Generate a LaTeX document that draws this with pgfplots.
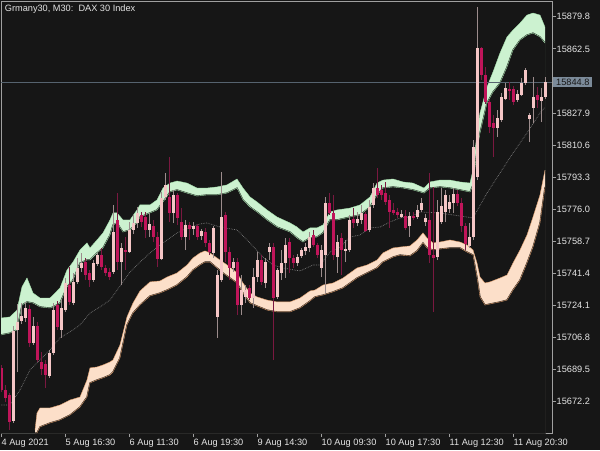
\documentclass[border=0pt]{standalone}
\usepackage{pgfplots}
\pgfplotsset{compat=1.18}
\usepackage{pgfplotstable}
\usepackage{fontspec}
\setmainfont{Liberation Sans}

\definecolor{bg}{HTML}{161616}
\definecolor{framec}{HTML}{A0A0A0}
\definecolor{labelc}{HTML}{E4E4E4}
\definecolor{mint}{HTML}{CCF2D0}
\definecolor{mintedge}{HTML}{A8E4B0}
\definecolor{peach}{HTML}{FCDFC9}
\definecolor{peachedge}{HTML}{E0A070}
\definecolor{bullc}{HTML}{F5C6C6}
\definecolor{bearc}{HTML}{C0155A}
\definecolor{bullwick}{HTML}{9C8C8C}
\definecolor{bearwick}{HTML}{7A1840}
\definecolor{midc}{HTML}{7A7A7A}
\definecolor{bidc}{HTML}{56636F}
\definecolor{bidbox}{HTML}{7C8B9A}

% bar index, open, high, low, close (M30 bars)
\pgfplotstableread{
i O H L C
0 15690.4 15692.0 15677.4 15678.5
1 15678.5 15681.2 15672.0 15674.2
2 15675.8 15676.9 15656.9 15661.3
3 15661.8 15713.0 15660.7 15710.3
4 15710.9 15724.9 15688.2 15715.2
5 15715.7 15725.4 15714.1 15718.4
6 15717.3 15726.0 15715.2 15722.7
7 15722.2 15724.3 15701.7 15703.9
8 15703.9 15717.9 15702.8 15713.0
9 15713.0 15715.2 15693.6 15694.7
10 15693.6 15699.0 15686.6 15689.8
11 15692.5 15694.7 15679.6 15686.6
12 15686.1 15700.1 15685.0 15698.5
13 15698.5 15725.4 15697.4 15721.6
14 15724.3 15726.5 15710.9 15712.5
15 15710.9 15727.0 15706.6 15722.7
16 15721.6 15738.9 15720.6 15736.2
17 15735.1 15744.8 15724.3 15726.0
18 15725.4 15741.6 15724.3 15736.8
19 15736.8 15749.7 15735.7 15744.3
20 15744.3 15752.4 15742.1 15747.0
21 15747.5 15749.7 15737.8 15740.5
22 15741.6 15743.2 15734.1 15737.8
23 15737.8 15748.6 15736.8 15747.0
24 15746.5 15752.4 15745.4 15751.3
25 15751.3 15755.1 15743.2 15744.8
26 15744.3 15745.9 15740.0 15741.6
27 15742.1 15744.3 15737.8 15739.4
28 15742.1 15778.3 15741.1 15763.7
29 15770.2 15784.7 15743.2 15747.5
30 15747.5 15757.8 15735.1 15755.1
31 15754.0 15761.0 15743.2 15752.9
32 15752.9 15769.1 15752.4 15764.8
33 15764.8 15772.9 15762.6 15768.6
34 15768.6 15777.2 15765.9 15774.0
35 15772.9 15774.5 15766.4 15769.1
36 15771.8 15774.5 15760.5 15764.8
37 15764.8 15774.0 15761.0 15768.0
38 15766.9 15770.2 15758.3 15761.0
39 15761.0 15763.7 15744.8 15749.1
40 15749.1 15785.3 15748.6 15782.0
41 15782.6 15795.5 15781.0 15789.1
42 15782.6 15804.1 15769.1 15774.0
43 15774.0 15786.4 15768.6 15783.7
44 15783.7 15784.7 15767.5 15771.3
45 15769.1 15776.6 15759.4 15761.0
46 15761.0 15770.2 15754.0 15767.5
47 15767.5 15769.1 15759.4 15765.3
48 15765.3 15769.1 15762.1 15766.9
49 15766.9 15768.0 15759.4 15761.0
50 15761.6 15765.3 15759.4 15764.2
51 15763.7 15765.9 15755.6 15757.8
52 15757.8 15759.4 15751.3 15752.9
53 15752.4 15766.9 15749.7 15765.9
54 15717.9 15743.2 15706.6 15740.5
55 15737.8 15796.1 15736.8 15771.8
56 15772.9 15774.5 15747.5 15752.9
57 15752.9 15755.6 15737.8 15744.3
58 15744.3 15749.7 15742.1 15747.5
59 15747.5 15749.7 15719.0 15724.3
60 15724.3 15740.5 15719.0 15732.4
61 15728.7 15735.1 15725.4 15732.4
62 15733.5 15735.1 15727.0 15728.1
63 15728.1 15744.3 15722.7 15739.4
64 15739.4 15752.9 15736.8 15748.6
65 15748.6 15751.3 15735.1 15736.8
66 15736.2 15749.7 15733.5 15747.5
67 15752.9 15757.8 15748.6 15755.6
68 15755.6 15757.8 15694.7 15728.1
69 15728.7 15744.3 15727.6 15743.2
70 15741.6 15754.0 15737.8 15747.0
71 15747.0 15760.5 15738.9 15756.7
72 15758.3 15760.5 15741.6 15749.7
73 15749.7 15751.3 15744.3 15747.0
74 15747.0 15751.8 15745.4 15750.2
75 15750.8 15755.1 15749.7 15754.0
76 15753.5 15757.8 15751.3 15755.6
77 15755.1 15763.7 15752.9 15761.0
78 15762.1 15764.8 15755.6 15756.7
79 15756.7 15757.8 15749.7 15751.3
80 15744.3 15756.7 15739.4 15754.0
81 15751.3 15782.6 15730.8 15779.3
82 15779.3 15784.7 15772.9 15774.0
83 15774.0 15783.7 15748.6 15751.3
84 15750.2 15762.1 15741.6 15758.3
85 15760.5 15763.2 15740.5 15754.0
86 15753.5 15759.4 15747.5 15754.5
87 15754.0 15772.9 15752.9 15770.2
88 15770.7 15776.6 15765.9 15768.6
89 15768.6 15774.5 15766.9 15770.7
90 15770.2 15778.3 15768.0 15774.0
91 15773.4 15774.5 15763.7 15764.2
92 15764.8 15781.0 15763.7 15777.2
93 15778.3 15790.1 15776.6 15787.4
94 15787.4 15798.2 15782.0 15783.7
95 15786.4 15789.1 15781.0 15783.7
96 15784.7 15790.7 15778.3 15779.9
97 15781.0 15783.7 15765.9 15774.5
98 15775.6 15779.3 15772.9 15774.0
99 15774.5 15776.6 15771.3 15772.9
100 15771.8 15775.6 15771.3 15773.4
101 15772.3 15775.6 15764.8 15765.9
102 15766.9 15774.5 15761.0 15772.3
103 15772.3 15774.5 15770.2 15771.3
104 15771.8 15778.3 15770.7 15775.6
105 15775.6 15782.0 15774.5 15779.3
106 15769.1 15773.4 15766.9 15771.3
107 15770.2 15795.5 15747.0 15751.3
108 15751.3 15788.0 15720.6 15749.7
109 15750.2 15781.0 15748.6 15774.5
110 15769.1 15787.4 15768.0 15777.7
111 15774.5 15786.4 15769.1 15783.7
112 15776.1 15783.7 15774.0 15779.9
113 15779.3 15787.4 15774.0 15784.2
114 15784.2 15786.4 15777.7 15779.3
115 15779.3 15782.0 15763.7 15766.9
116 15766.9 15768.6 15754.0 15757.2
117 15756.2 15768.6 15755.1 15761.0
118 15761.0 15813.3 15759.4 15809.5
119 15793.4 15885.0 15791.7 15862.9
120 15862.9 15863.5 15845.7 15848.4
121 15848.4 15852.7 15832.7 15833.8
122 15833.8 15834.9 15817.1 15820.3
123 15822.5 15826.8 15804.1 15819.8
124 15819.8 15829.5 15814.9 15825.2
125 15824.1 15838.7 15823.0 15836.5
126 15835.4 15844.0 15834.9 15841.4
127 15840.8 15844.6 15834.9 15839.7
128 15840.8 15842.4 15832.2 15833.8
129 15834.9 15840.3 15833.8 15838.1
130 15837.6 15846.7 15837.0 15844.0
131 15844.0 15852.1 15843.0 15851.1
132 15824.6 15827.9 15812.2 15826.8
133 15830.6 15847.3 15822.5 15836.5
134 15837.6 15841.9 15830.6 15834.9
135 15834.3 15841.4 15823.0 15836.5
136 15836.5 15847.3 15835.4 15844.6
}\candles

% upper (green) band
\pgfplotstableread{
i top bot
0 15717.3 15708.2
2.25 15717.9 15709.2
4 15721.6 15710.9
5.25 15734.1 15724.3
6.5 15738.9 15726.0
8 15730.8 15725.4
9.75 15728.1 15723.3
12.25 15728.1 15722.7
13 15729.7 15723.3
14.75 15733.5 15725.4
16.5 15743.2 15734.1
18 15747.5 15737.8
19.75 15754.0 15747.0
21.5 15757.8 15748.6
22.25 15755.1 15748.6
24 15759.4 15752.4
25.5 15763.2 15755.1
27.25 15770.2 15762.1
28 15774.0 15767.5
29 15774.0 15768.6
30.5 15770.2 15763.7
32.25 15770.2 15764.8
34 15775.6 15768.6
34.75 15778.3 15771.8
37.25 15778.3 15774.0
39 15781.0 15775.6
40.5 15787.4 15779.9
42.25 15790.1 15785.3
44 15791.2 15786.4
46.5 15790.1 15784.7
49 15787.4 15783.1
51.5 15787.4 15783.7
54 15788.0 15783.7
56.5 15789.1 15784.7
59 15792.3 15787.4
60.5 15787.4 15781.0
62.25 15782.6 15777.2
64 15779.9 15774.5
66.5 15775.6 15770.2
69 15771.8 15766.4
72.25 15768.6 15763.7
74 15766.4 15760.5
75.5 15763.7 15758.3
77.25 15765.9 15760.5
79 15765.9 15761.0
80.5 15767.5 15763.2
82.25 15774.5 15770.2
84 15775.6 15770.2
87.25 15776.6 15771.8
89.75 15778.3 15772.9
92.25 15782.6 15777.2
94 15790.1 15783.7
95.5 15791.7 15787.4
98 15792.3 15788.0
100.5 15790.7 15787.4
103 15790.1 15786.4
105.75 15787.4 15784.7
107.25 15790.7 15787.4
109.75 15791.7 15788.0
112.25 15791.7 15787.4
114.75 15790.7 15786.4
117.25 15790.1 15785.3
118 15797.1 15789.1
119 15817.1 15807.9
119.75 15827.9 15817.1
121.5 15841.9 15833.3
123 15850.0 15839.2
124.75 15860.2 15844.0
126.5 15868.9 15852.7
128 15872.6 15861.8
129.75 15876.4 15867.2
131.5 15880.7 15869.9
133 15881.8 15871.0
134.75 15880.7 15868.9
136 15874.2 15865.6
}\upband

% lower (peach) band
\pgfplotstableread{
i top bot
8.5 15656.9 15655.3
9 15666.1 15655.3
9.75 15668.8 15658.6
12.25 15668.8 15660.7
14.75 15670.4 15662.3
17.25 15673.1 15665.0
19.75 15674.7 15669.3
21.5 15683.9 15674.7
22.25 15690.4 15682.3
24 15690.9 15683.9
25.5 15692.0 15685.0
27.25 15693.6 15686.6
28 15694.7 15688.2
29.75 15702.8 15695.8
31.5 15717.9 15713.6
33 15725.4 15720.0
34.75 15731.9 15724.3
37.25 15736.8 15729.2
39.75 15737.3 15730.8
41.5 15739.4 15732.4
44 15741.6 15735.1
46.5 15745.9 15739.4
48 15749.7 15743.2
49.75 15752.4 15745.9
51 15753.5 15747.5
52.25 15752.4 15747.5
54 15749.7 15744.3
55.5 15747.5 15741.6
57.25 15744.8 15738.9
59 15741.6 15736.2
60.5 15736.2 15730.8
62.25 15730.8 15725.4
64 15728.7 15723.8
66.5 15727.0 15721.6
69 15726.0 15720.6
72.25 15726.0 15720.6
74.75 15728.1 15722.7
77.25 15731.9 15726.5
78.5 15732.4 15728.7
80.5 15735.1 15729.7
83 15736.2 15731.4
85.5 15738.9 15733.5
87.25 15741.6 15736.2
89 15744.3 15738.9
91.5 15745.9 15741.6
94 15748.6 15744.3
95.5 15752.4 15747.5
98 15755.1 15750.2
99.75 15755.6 15751.3
102.25 15756.2 15750.8
104 15759.4 15753.5
105.5 15763.2 15757.8
106.5 15760.5 15755.1
108 15757.8 15754.0
109.75 15758.3 15754.5
112.25 15759.4 15755.1
114.75 15758.3 15755.1
116.5 15756.7 15752.9
118 15754.0 15751.3
119 15747.0 15739.4
119.75 15739.4 15728.7
121 15736.2 15724.3
122.25 15736.8 15724.9
124.75 15738.9 15726.0
126.5 15740.5 15727.0
128 15747.0 15732.4
129.75 15754.0 15737.8
131.5 15762.1 15747.0
133 15771.8 15755.6
134.75 15783.7 15768.6
136 15797.1 15788.0
}\lowband

% middle line
\pgfplotstableread{
i y
0 15670.4
2.25 15670.4
4.75 15678.5
7.25 15689.3
9 15693.1
12.25 15700.1
14.75 15706.6
18 15710.9
19.75 15713.6
22.25 15720.0
24.75 15723.3
27.25 15727.0
32.25 15742.1
34.75 15747.5
37.25 15752.4
39.75 15756.7
42.25 15760.5
44 15763.2
47.25 15766.4
49.75 15768.0
51.5 15768.6
54.75 15766.4
59 15764.8
62.25 15757.8
65.5 15750.2
68 15745.9
70.5 15744.3
74.75 15742.7
78 15745.9
79.75 15745.9
82.25 15752.9
84.75 15755.6
87.25 15761.0
89.75 15762.1
92.25 15765.9
94.75 15766.4
97.25 15769.1
99.75 15771.3
102.25 15771.8
104.75 15774.5
109.75 15774.0
114.75 15772.3
118 15771.3
121.5 15784.7
124.75 15795.5
128 15806.3
131.5 15817.1
134.75 15827.9
136 15831.1
}\midline

\begin{document}
\begin{tikzpicture}
\fill[bg] (-1bp,-17bp) rectangle (599bp,433bp);
\begin{axis}[
    at={(0,0)}, anchor=south west, scale only axis,
    width=551bp, height=432bp,
    xmin=0, xmax=137.75, ymin=15655.3, ymax=15888.3,
    scaled ticks=false,
    axis line style={draw=framec, line width=0.8bp},
    tick align=outside, major tick length=4bp,
    tick style={draw=framec, line width=0.8bp},
    xtick pos=lower, ytick pos=upper, yticklabel pos=upper,
    xtick={0,16,32,48,64,80,96,112,128},
    xticklabels={4 Aug 2021,5 Aug 16:30,6 Aug 11:30,6 Aug 19:30,9 Aug 14:30,10 Aug 09:30,10 Aug 17:30,11 Aug 12:30,11 Aug 20:30},
    ytick={15672.2,15689.5,15706.8,15724.1,15741.4,15758.7,15776.0,15793.3,15810.6,15827.9,15862.5,15879.8},
    yticklabels={15672.2,15689.5,15706.8,15724.1,15741.4,15758.7,15776.0,15793.3,15810.6,15827.9,15862.5,15879.8},
    ticklabel style={font=\fontsize{9.2bp}{11bp}\selectfont, text=labelc},
    xticklabel style={anchor=base west, inner xsep=0.5bp, yshift=-8bp},
    yticklabel style={anchor=west, inner xsep=0.5bp},
]
  % bands: fill down from the top edge, then blank out below the bottom edge
  \addplot[fill=mint, draw=none, forget plot] table[x=i, y=top] {\upband} \closedcycle;
  \addplot[fill=bg, draw=bg, line width=1.2bp, forget plot] table[x=i, y=bot] {\upband} \closedcycle;
  \addplot[fill=peach, draw=none, forget plot] table[x=i, y=top] {\lowband} \closedcycle;
  \addplot[fill=bg, draw=bg, line width=1.2bp, forget plot] table[x=i, y=bot] {\lowband} \closedcycle;
  \addplot[mintedge, line width=0.4bp, forget plot] table[x=i, y=top] {\upband};
  \addplot[mintedge, line width=0.4bp, forget plot] table[x=i, y=bot] {\upband};
  \addplot[peachedge, line width=0.4bp, forget plot] table[x=i, y=top] {\lowband};
  \addplot[peachedge, line width=0.4bp, forget plot] table[x=i, y=bot] {\lowband};

  % middle line
  \addplot[midc, densely dotted, line width=0.7bp, forget plot] table[x=i, y=y] {\midline};

  % bid line
  \addplot[bidc, line width=0.8bp, forget plot] coordinates {(0,15844.6) (137.75,15844.6)};
  \coordinate (bid) at (axis cs:137.75,15844.6);

  % wicks: low to high
  \addplot[bullwick, line width=1bp, forget plot,
    quiver={u=0, v=\thisrow{H}-\thisrow{L}, update limits=false},
    restrict expr to domain={\thisrow{C}-\thisrow{O}}{0:1000}]
    table[x=i, y=L] {\candles};
  \addplot[bearwick, line width=1bp, forget plot,
    quiver={u=0, v=\thisrow{H}-\thisrow{L}, update limits=false},
    restrict expr to domain={\thisrow{O}-\thisrow{C}}{0.01:1000}]
    table[x=i, y=L] {\candles};

  % bodies: open to close
  \addplot[bullc, line width=3bp, forget plot,
    quiver={u=0, v=\thisrow{C}-\thisrow{O}, update limits=false},
    restrict expr to domain={\thisrow{C}-\thisrow{O}}{0:1000}]
    table[x=i, y=O] {\candles};
  \addplot[bearc, line width=3bp, forget plot,
    quiver={u=0, v=\thisrow{C}-\thisrow{O}, update limits=false},
    restrict expr to domain={\thisrow{O}-\thisrow{C}}{0.01:1000}]
    table[x=i, y=O] {\candles};
\end{axis}
\node[fill=bidbox, text=black!90, anchor=west, inner xsep=3bp, inner ysep=2bp,
  text height=6.8bp, text depth=0pt, font=\fontsize{9.2bp}{11bp}\selectfont]
  at ([xshift=1bp]bid) {15844.8};
\node[anchor=base west, inner sep=0pt, text=labelc, font=\fontsize{9.2bp}{11bp}\selectfont]
  at (3.7bp,421.7bp) {Grmany30, M30:\ \ DAX 30 Index};
\end{tikzpicture}
\end{document}
